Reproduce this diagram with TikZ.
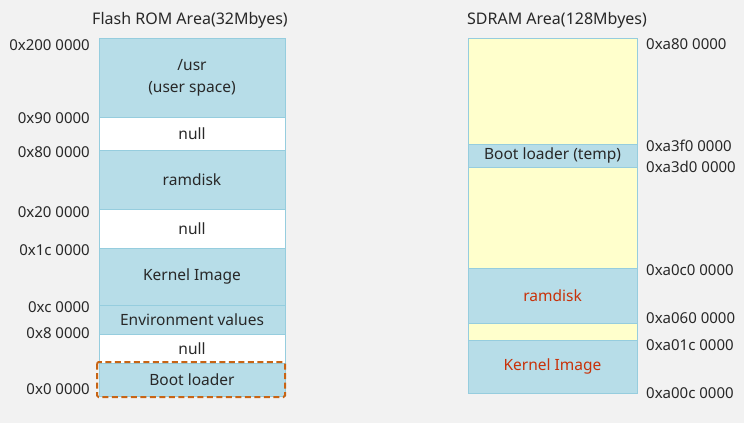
\documentclass[tikz,border=0pt]{standalone}
\usepackage{fontspec}
\setmainfont{Noto Sans}
\usepackage{xcolor}
\usetikzlibrary{positioning}
\definecolor{segblue}{RGB}{183, 221, 232}
\definecolor{segline}{RGB}{150, 205, 222}
\definecolor{segyellow}{RGB}{255, 255, 204}
\definecolor{bootorange}{RGB}{200, 100, 20}
\definecolor{sdramred}{RGB}{200, 50, 10}
\definecolor{bggray}{RGB}{242, 242, 242}
\definecolor{addrgray}{RGB}{40, 40, 40}

\begin{document}
\begin{tikzpicture}[
    x=1pt, y=-1pt,
    node distance=0pt,
    seg/.style={
        rectangle,
        draw=segline,
        fill=segblue,
        inner sep=0pt,
        outer sep=0pt,
        minimum width=186pt,
        font=\fontsize{15.5}{22}\selectfont,
        text=addrgray,
        align=center
    },
    gap/.style={seg, fill=white},
    rseg/.style={seg, minimum width=169pt, text=sdramred},
    free/.style={rseg, fill=segyellow},
    addr/.style={font=\fontsize{15}{17}\selectfont, text=addrgray, inner sep=0pt},
    title/.style={font=\fontsize{16}{18}\selectfont, text=addrgray, inner sep=0pt}
]
    \useasboundingbox[fill=bggray] (0,0) rectangle (744,423);

    % Flash ROM: top to bottom
    \node[title] (romtitle) at (190,20) {Flash ROM Area(32Mbyes)};
    \node[seg, minimum height=79pt, anchor=north] (usr) at (192,38) {/usr\\(user space)};
    \node[gap, minimum height=33pt, below=of usr] (nulla) {null};
    \node[seg, minimum height=59pt, below=of nulla] (ramd) {ramdisk};
    \node[gap, minimum height=39pt, below=of ramd] (nullb) {null};
    \node[seg, minimum height=57pt, below=of nullb] (kern) {Kernel Image};
    \node[seg, minimum height=29pt, below=of kern] (env) {Environment values};
    \node[gap, minimum height=29pt, below=of env] (nullc) {null};
    \node[seg, minimum height=33pt, below=of nullc] (boot) {Boot loader};
    \draw[bootorange, line width=2pt, dash pattern=on 6pt off 3.5pt, rounded corners=1.5pt]
        ([xshift=-2pt,yshift=1pt]boot.north west) rectangle ([yshift=-1pt]boot.south east);

    % Flash ROM addresses
    \node[addr, anchor=east] (a200) at (90,45) {0x200 0000};
    \node[addr, anchor=east] (a90) at (90,118) {0x90 0000};
    \node[addr, anchor=east] (a80) at (90,152) {0x80 0000};
    \node[addr, anchor=east] (a20) at (90,212) {0x20 0000};
    \node[addr, anchor=east] (a1c) at (90,250) {0x1c 0000};
    \node[addr, anchor=east] (ac) at (90,307) {0xc 0000};
    \node[addr, anchor=east] (a8) at (90,333) {0x8 0000};
    \node[addr, anchor=east] (a0) at (90,389) {0x0 0000};

    % SDRAM: top to bottom
    \node[title] (sdtitle) at (557,20) {SDRAM Area(128Mbyes)};
    \node[free, minimum height=106pt, anchor=north] (topfree) at (552.5,38) {};
    \node[rseg, minimum height=23pt, below=of topfree, text=addrgray] (tmpboot) {Boot loader (temp)};
    \node[free, minimum height=101pt, below=of tmpboot] (midfree) {};
    \node[rseg, minimum height=55pt, below=of midfree] (sdramd) {ramdisk};
    \node[free, minimum height=17pt, below=of sdramd] (lowfree) {};
    \node[rseg, minimum height=53pt, below=of lowfree] (sdkern) {Kernel Image};

    % SDRAM addresses
    \node[addr, anchor=west] (ba80) at (646,44) {0xa80 0000};
    \node[addr, anchor=west] (ba3f) at (646,146) {0xa3f0 0000};
    \node[addr, anchor=west] (ba3d) at (646,167) {0xa3d0 0000};
    \node[addr, anchor=west] (ba0c) at (646,270) {0xa0c0 0000};
    \node[addr, anchor=west] (ba06) at (646,318) {0xa060 0000};
    \node[addr, anchor=west] (ba01) at (646,345) {0xa01c 0000};
    \node[addr, anchor=west] (ba00) at (646,393) {0xa00c 0000};
\end{tikzpicture}
\end{document}
